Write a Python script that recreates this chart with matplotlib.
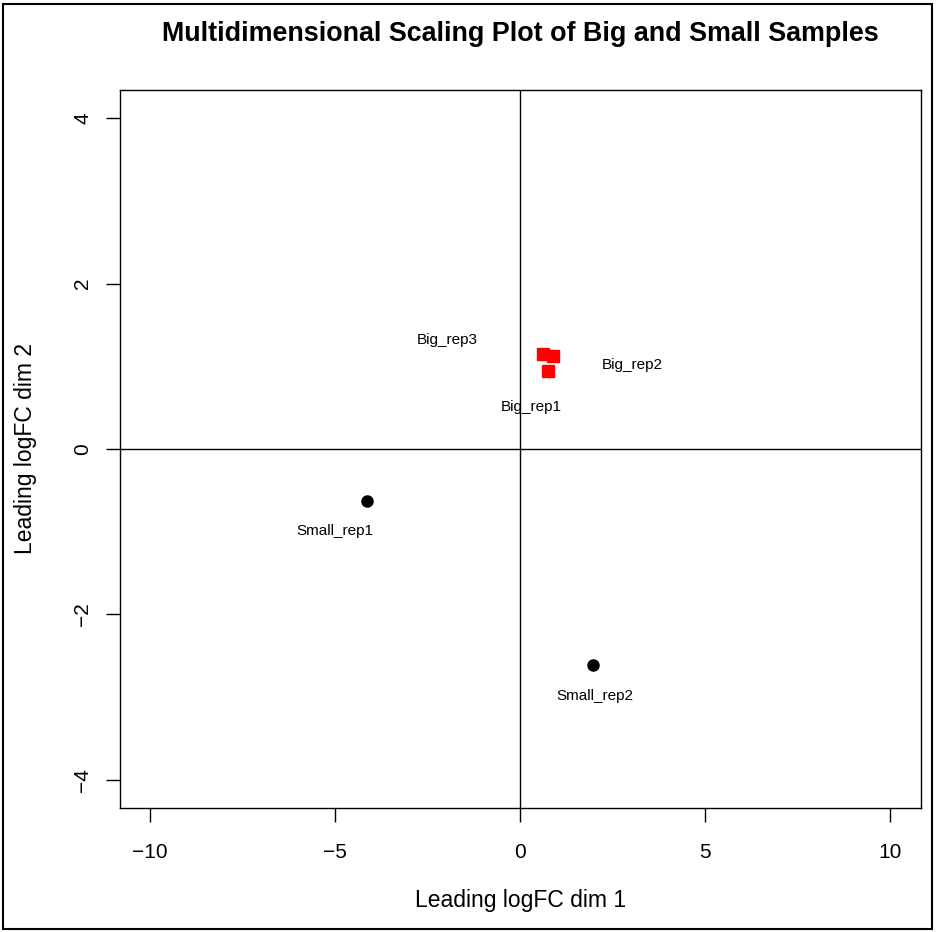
import matplotlib
matplotlib.use("Agg")
import matplotlib.pyplot as plt
from matplotlib.patches import Rectangle

# sample coordinates (leading logFC dims)
big_names = ["Big_rep1", "Big_rep2", "Big_rep3"]
big_x = [0.76, 0.90, 0.63]
big_y = [0.94, 1.13, 1.15]
big_label_x = [0.30, 3.03, -1.97]
big_label_y = [0.51, 1.02, 1.32]

small_names = ["Small_rep1", "Small_rep2"]
small_x = [-4.14, 1.97]
small_y = [-0.63, -2.61]
small_label_x = [-5.0, 2.03]
small_label_y = [-0.99, -2.98]

xticks = [-10, -5, 0, 5, 10]
yticks = [-4, -2, 0, 2, 4]

plt.rcParams['font.family'] = ['Liberation Sans', 'DejaVu Sans']

fig = plt.figure(figsize=(9.37, 9.32), dpi=100)
ax = fig.add_axes([120 / 937, 1 - 808 / 932, 801 / 937, 718 / 932])

ax.axhline(0, color='black', lw=1)
ax.axvline(0, color='black', lw=1)

ax.plot(big_x, big_y, 's', color='red', markersize=8, linestyle='none')
ax.plot(small_x, small_y, 'o', color='black', markersize=8, linestyle='none')

for name, lx, ly in zip(big_names, big_label_x, big_label_y):
    ax.text(lx, ly, name, ha='center', va='center', fontsize=11)
for name, lx, ly in zip(small_names, small_label_x, small_label_y):
    ax.text(lx, ly, name, ha='center', va='center', fontsize=11)

ax.set_xlim(-10.81, 10.84)
ax.set_ylim(-4.34, 4.34)
ax.set_xticks(xticks)
ax.set_yticks(yticks)
ax.set_xticklabels([str(t).replace('-', '\u2212') for t in xticks])
ax.set_yticklabels([str(t).replace('-', '\u2212') for t in yticks], rotation=90, va='center')
ax.tick_params(direction='out', length=10, width=1, labelsize=15)
ax.tick_params(axis='x', pad=15)
ax.tick_params(axis='y', pad=10)
for s in ax.spines.values():
    s.set_linewidth(1)

ax.set_xlabel("Leading logFC dim 1", fontsize=16.5, labelpad=20)
ax.set_ylabel("Leading logFC dim 2", fontsize=16.5)
ax.yaxis.set_label_coords(-0.1036, 0.5)
fig.text(520 / 937, 1 - 34 / 932, "Multidimensional Scaling Plot of Big and Small Samples",
         ha='center', va='center', fontsize=19.4, fontweight='bold')

# outer frame around the whole figure
fig.patches.append(Rectangle((3 / 937, 3 / 932), 929 / 937, 925 / 932, transform=fig.transFigure,
                             fill=False, edgecolor='black', lw=1.5))

fig.savefig("out.png", dpi=100)
